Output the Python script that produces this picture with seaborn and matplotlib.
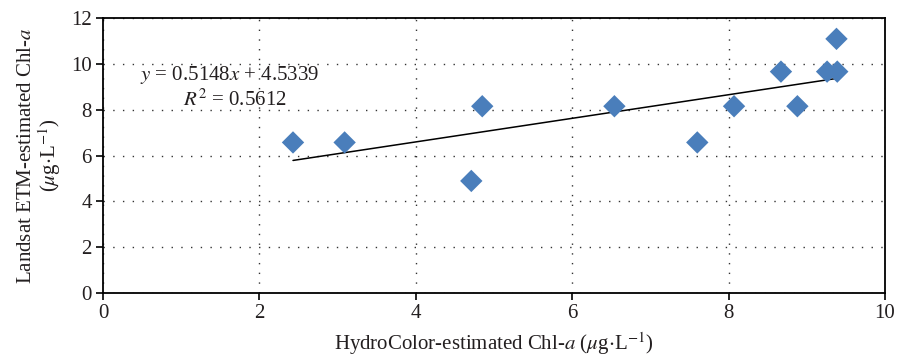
import matplotlib
matplotlib.use("Agg")
import matplotlib.pyplot as plt
import numpy as np
import pandas as pd
import seaborn as sns

# values
hydrocolor_chla = [2.43, 3.09, 4.71, 4.85, 6.54, 7.60, 8.07, 8.67, 8.88, 9.26, 9.39, 9.38]
landsat_chla = [6.57, 6.57, 4.89, 8.15, 8.15, 6.57, 8.15, 9.66, 8.15, 9.66, 9.66, 11.09]
slope = 0.5148
intercept = 4.5339
r_squared = 0.5612
x_ticks = [0, 2, 4, 6, 8, 10]
y_ticks = [0, 2, 4, 6, 8, 10, 12]

df = pd.DataFrame({"x": hydrocolor_chla, "y": landsat_chla})

sns.set_theme(style="white")
plt.rcParams["font.family"] = ["Liberation Serif", "DejaVu Serif"]
plt.rcParams["mathtext.fontset"] = "stix"
text_color = "#231f20"
fs = 15

fig = plt.figure(figsize=(9.01, 3.55), dpi=100)
ax = fig.add_axes([0.1143, 0.1746, 0.8679, 0.7747])

sns.scatterplot(data=df, x="x", y="y", marker="D", s=130, color="#4a7ebb",
                edgecolor="none", ax=ax, zorder=3)

xs = np.array([min(hydrocolor_chla), max(hydrocolor_chla)])
ax.plot(xs, slope * xs + intercept, color="black", linewidth=1.1, zorder=2)

ax.set_xlim(x_ticks[0], x_ticks[-1])
ax.set_ylim(y_ticks[0], y_ticks[-1])
ax.set_xticks(x_ticks)
ax.set_yticks(y_ticks)
ax.grid(True, color="#333333", linestyle=(0, (1, 6)), linewidth=1.0)
for sp in ax.spines.values():
    sp.set_color("black")
    sp.set_linewidth(1.3)
ax.tick_params(axis="both", direction="out", length=5, width=1.2, color="black",
               labelsize=fs, labelcolor=text_color, pad=3, bottom=True, left=True)

ax.set_xlabel(r"HydroColor-estimated Chl-$a$ ($\mu$g$\cdot$L$^{-1}$)", fontsize=fs,
              color=text_color, labelpad=5)
ax.set_ylabel("Landsat ETM-estimated Chl-$a$\n($\\mu$g$\\cdot$L$^{-1}$)", fontsize=fs,
              color=text_color, linespacing=1.0, labelpad=6)

ax.text(0.47, 9.5, r"$y$ = %.4f$x$ + %.4f" % (slope, intercept), fontsize=fs,
        color=text_color, ha="left", va="center")
ax.text(1.02, 8.4, r"$R^{2}$ = %.4f" % r_squared, fontsize=fs,
        color=text_color, ha="left", va="center")

fig.savefig("out.png", dpi=100)
